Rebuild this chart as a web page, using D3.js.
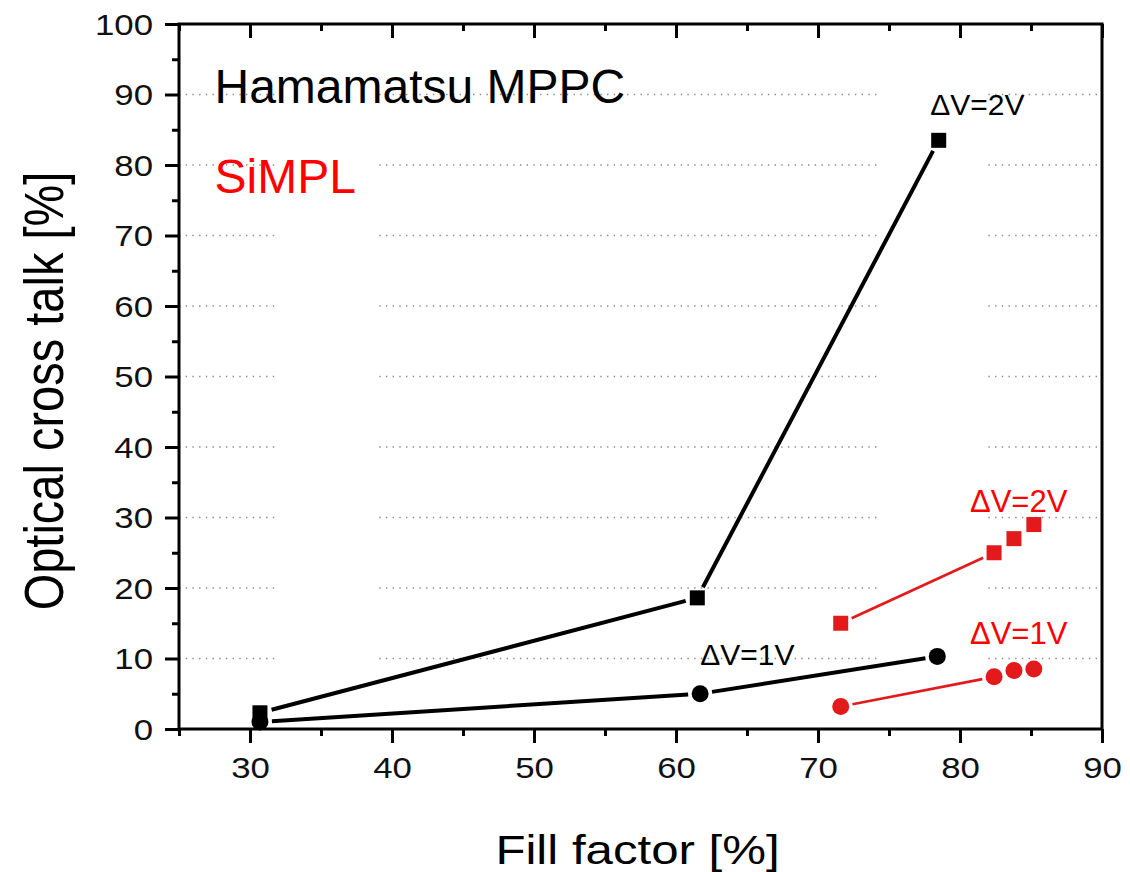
<!DOCTYPE html>
<html>
<head>
<meta charset="utf-8">
<script src="https://cdn.jsdelivr.net/npm/d3@7"></script>
<style>
  body { margin: 0; background: #fff; }
  svg { display: block; }
</style>
</head>
<body>
<div id="chart"></div>
<script>
// Hamamatsu MPPC (black)
var hamaFill2V = [30.7, 61.5, 78.5];
var hamaCT2V   = [2.3, 18.6, 83.5];
var hamaFill1V = [30.7, 61.7, 78.4];
var hamaCT1V   = [1.0, 5.0, 10.3];

// SiMPL (red)
var simplFill2V = [71.6, 82.4, 83.8, 85.2];
var simplCT2V   = [15.0, 25.0, 27.0, 29.0];
var simplFill1V = [71.6, 82.4, 83.8, 85.2];
var simplCT1V   = [3.2, 7.4, 8.3, 8.5];
var simplJoined = 2; // only the first points are joined by a line

var xTicks = [30, 40, 50, 60, 70, 80, 90];
var xMinor = [25, 35, 45, 55, 65, 75, 85];
var yTicks = [0, 10, 20, 30, 40, 50, 60, 70, 80, 90, 100];
var yMinor = [5, 15, 25, 35, 45, 55, 65, 75, 85, 95];
var gridRows = [10, 20, 30, 40, 50, 60, 70, 80, 90];
var gridSpans = [[25, 32.0], [39.1, 74.3], [82.0, 90]];

var W = 1130, H = 872;
var margin = {top: 24, right: 28, bottom: 143, left: 179},
    width = W - margin.left - margin.right,
    height = H - margin.top - margin.bottom;

var SX = 1.2; // the axis texts are a little wider than tall
var font = "'Liberation Sans', Arial, sans-serif";
var red = "#e31a1c";

var x = d3.scaleLinear().domain([25, 90]).range([0, width]);
var y = d3.scaleLinear().domain([0, 100]).range([height, 0]);

var svg = d3.select("#chart").append("svg")
    .attr("width", W)
    .attr("height", H)
    .style("font-family", font);

var g = svg.append("g")
    .attr("transform", "translate(" + margin.left + "," + margin.top + ")");

// dotted grid, broken in the same places as the original
gridRows.forEach(function(v) {
  gridSpans.forEach(function(s) {
    g.append("line")
      .attr("x1", x(s[0])).attr("x2", x(s[1]))
      .attr("y1", y(v)).attr("y2", y(v))
      .attr("stroke", "#8a8a8a")
      .attr("stroke-width", 1.3)
      .attr("stroke-dasharray", "1.4,5.3");
  });
});

function styleAxis(sel) {
  sel.select(".domain").remove();
  sel.selectAll(".tick line").attr("stroke", "#000").attr("stroke-width", 3);
  sel.selectAll("text").style("font-size", "29px").attr("fill", "#111");
}

// left
g.append("g").call(d3.axisLeft(y).tickValues(yTicks).tickSize(14).tickFormat(d3.format("d")))
  .call(styleAxis)
  .call(function(a) {
    a.selectAll(".tick text")
      .attr("x", 0).attr("dy", "0.35em")
      .attr("transform", "translate(-26,0) scale(" + SX + ",1)");
  });
g.append("g").call(d3.axisLeft(y).tickValues(yMinor).tickSize(7).tickFormat(""))
  .call(styleAxis);

// bottom
var bottom = g.append("g").attr("transform", "translate(0," + height + ")");
bottom.append("g").call(d3.axisBottom(x).tickValues(xTicks).tickSize(14).tickFormat(d3.format("d")))
  .call(styleAxis)
  .call(function(a) {
    a.selectAll(".tick text")
      .attr("y", 0).attr("dy", 0)
      .attr("transform", "translate(0,49) scale(" + SX + ",1)");
  });
bottom.append("g").call(d3.axisBottom(x).tickValues(xMinor).tickSize(7).tickFormat(""))
  .call(styleAxis);

// top, ticks pointing in
g.append("g").call(d3.axisTop(x).tickValues(xTicks).tickSize(-14).tickFormat(""))
  .call(styleAxis);
g.append("g").call(d3.axisTop(x).tickValues(xMinor).tickSize(-7).tickFormat(""))
  .call(styleAxis);

// frame
g.append("rect")
  .attr("x", 0).attr("y", 0)
  .attr("width", width).attr("height", height)
  .attr("fill", "none")
  .attr("stroke", "#000")
  .attr("stroke-width", 3);

// axis titles
svg.append("text")
  .attr("transform", "translate(" + (margin.left + width / 2 - 3) + ",864) scale(" + SX + ",1)")
  .attr("text-anchor", "middle")
  .style("font-size", "41px")
  .text("Fill factor [%]");

svg.append("text")
  .attr("transform", "translate(63,391) scale(" + SX + ",1) rotate(-90)")
  .attr("text-anchor", "middle")
  .style("font-size", "47px")
  .text("Optical cross talk [%]");

// lines stop short of the symbols
function joined(xs, ys, n, color, w) {
  var gap = 12;
  var pts = xs.slice(0, n).map(function(v, i) { return [x(v), y(ys[i])]; });
  for (var i = 0; i < pts.length - 1; i++) {
    var a = pts[i], b = pts[i + 1];
    var dx = b[0] - a[0], dy = b[1] - a[1], len = Math.sqrt(dx * dx + dy * dy);
    var ux = dx / len, uy = dy / len;
    g.append("path")
      .attr("d", d3.line()([[a[0] + ux * gap, a[1] + uy * gap], [b[0] - ux * gap, b[1] - uy * gap]]))
      .attr("stroke", color)
      .attr("stroke-width", w)
      .attr("fill", "none");
  }
}

function squares(xs, ys, color) {
  g.selectAll(null)
    .data(xs.map(function(v, i) { return [v, ys[i]]; }))
    .enter().append("rect")
      .attr("x", function(d) { return x(d[0]) - 7.5; })
      .attr("y", function(d) { return y(d[1]) - 7.5; })
      .attr("width", 15).attr("height", 15)
      .attr("fill", color);
}

function circles(xs, ys, color) {
  g.selectAll(null)
    .data(xs.map(function(v, i) { return [v, ys[i]]; }))
    .enter().append("circle")
      .attr("cx", function(d) { return x(d[0]); })
      .attr("cy", function(d) { return y(d[1]); })
      .attr("r", 8.5)
      .attr("fill", color);
}

joined(hamaFill2V, hamaCT2V, hamaFill2V.length, "#000", 4);
joined(hamaFill1V, hamaCT1V, hamaFill1V.length, "#000", 4);
joined(simplFill2V, simplCT2V, simplJoined, red, 2.6);
joined(simplFill1V, simplCT1V, simplJoined, red, 2.6);

squares(hamaFill2V, hamaCT2V, "#000");
circles(hamaFill1V, hamaCT1V, "#000");
squares(simplFill2V, simplCT2V, red);
circles(simplFill1V, simplCT1V, red);

// annotations
function note(fx, fy, txt, color, size) {
  g.append("text")
    .attr("x", x(fx)).attr("y", y(fy))
    .attr("fill", color)
    .style("font-size", size + "px")
    .text(txt);
}

note(27.5, 88.8, "Hamamatsu MPPC", "#000", 48);
note(27.5, 76.0, "SiMPL", "#ff0000", 48);
note(77.9, 87.1, "\u0394V=2V", "#000", 30);
note(61.7, 9.1, "\u0394V=1V", "#000", 30);
note(80.7, 30.8, "\u0394V=2V", "#ff0000", 31);
note(80.7, 12.1, "\u0394V=1V", "#ff0000", 31);
</script>
</body>
</html>
